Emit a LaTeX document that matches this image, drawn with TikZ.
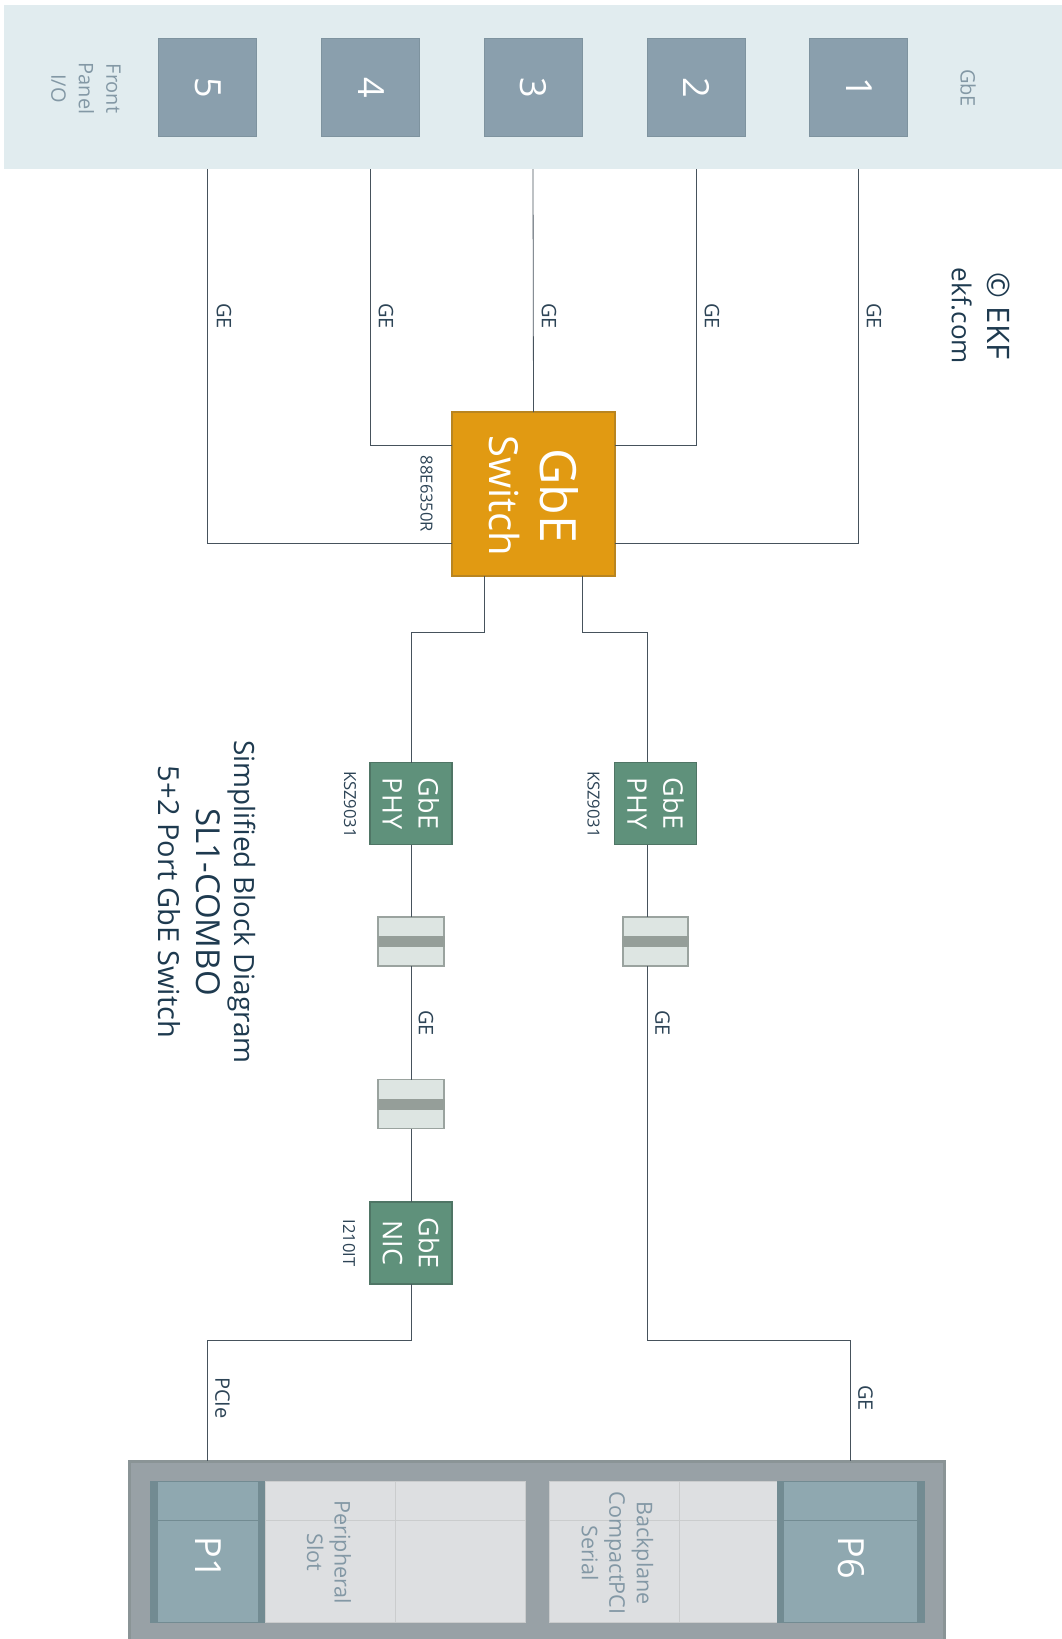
\documentclass[tikz,border=0pt]{standalone}
\usepackage{fontspec}
\setmainfont{Open Sans}
\usetikzlibrary{calc}

\definecolor{bandbg}{HTML}{E1ECEF}
\definecolor{portfill}{HTML}{8A9FAD}
\definecolor{portedge}{HTML}{7E939F}
\definecolor{swfill}{HTML}{E19A12}
\definecolor{swedge}{HTML}{B98520}
\definecolor{chipfill}{HTML}{5F917B}
\definecolor{chipedge}{HTML}{4F7565}
\definecolor{magfill}{HTML}{DDE5E2}
\definecolor{magedge}{HTML}{9AA39F}
\definecolor{magdark}{HTML}{959E99}
\definecolor{rackfill}{HTML}{98A1A6}
\definecolor{rackedge}{HTML}{8A9496}
\definecolor{pinfill}{HTML}{8FA8B0}
\definecolor{pinedge}{HTML}{728B92}
\definecolor{slotfill}{HTML}{DDDFE1}
\definecolor{slotline}{HTML}{CACCCD}
\definecolor{greytxt}{HTML}{8398A5}
\definecolor{darktxt}{HTML}{1E3A4F}
\definecolor{wire}{HTML}{46525C}

\begin{document}
\begin{tikzpicture}[
  x=1pt, y=-1pt,
  box/.style={rectangle, draw, inner sep=0pt, outer sep=0pt},
  band/.style={box, draw=none, fill=bandbg, minimum width=1058.5pt, minimum height=164pt},
  port/.style={box, fill=portfill, draw=portedge, line width=1pt, minimum width=98pt, minimum height=98pt},
  switch/.style={box, fill=swfill, draw=swedge, line width=1.2pt, minimum width=163pt, minimum height=164pt},
  chip/.style={box, fill=chipfill, draw=chipedge, line width=1.2pt, minimum width=82pt, minimum height=82pt},
  mag/.style={box, fill=magfill, draw=magedge, line width=1.6pt, minimum width=65.5pt, minimum height=49pt},
  magbar/.style={box, draw=none, fill=magdark, minimum width=67pt, minimum height=11pt},
  rack/.style={box, fill=rackfill, draw=rackedge, line width=3pt, minimum width=815pt, minimum height=190pt},
  pinblock/.style={box, fill=pinfill, draw=pinedge, line width=.8pt, minimum height=141pt},
  pinside/.style={box, draw=none, fill=pinedge, minimum height=141.5pt, minimum width=6.8pt},
  slot/.style={box, fill=slotfill, draw=slotline, line width=.8pt, minimum height=141pt},
  txt/.style={rotate=-90, align=center, inner sep=0pt},
  lbl/.style={txt, text=darktxt!85!gray, font=\fontsize{20}{26}\selectfont},
  partno/.style={txt, text=darktxt!85!gray, font=\fontsize{16.6}{22}\selectfont},
  graylbl/.style={txt, text=greytxt, font=\fontsize{20}{27.5}\selectfont},
  slotlbl/.style={txt, text=greytxt, font=\fontsize{21.6}{27.5}\selectfont},
  whitelbl/.style={txt, text=white},
  link/.style={draw=wire, line width=.8pt},
  seam/.style={draw=slotline, line width=.8pt}
]
\useasboundingbox (0,0) rectangle (1062,1639);

% front panel
\node[band] (panel) at (532.75,87) {};
\node[graylbl] (paneltxt) at (86,88.5) {Front\\Panel\\I/O};
\node[graylbl] (gbetxt) at (968,88) {GbE};
\foreach \n/\x in {5/207.5,4/370.5,3/533,2/696,1/858.5} {
  \node[port] (p\n) at (\x,87.5) {};
  \node[whitelbl, font=\fontsize{36}{40}\selectfont] (pt\n) at (\x+.5,87.5) {\n};
}

% switch
\node[switch] (sw) at (533.5,494) {};
\node[whitelbl, font=\fontsize{50}{51}\selectfont] (swtxt) at (533.5,496) {GbE\\{\fontsize{40}{46}\selectfont Switch}};
\node[partno] (swpart) at (426.5,494) {88E6350R};
\coordinate (swa) at (sw.west |- 0,445);
\coordinate (swb) at (sw.west |- 0,543);
\coordinate (swc) at (sw.east |- 0,445);
\coordinate (swd) at (sw.east |- 0,543);
\coordinate (swe) at (484.3,576);
\coordinate (swf) at (582,576);

% phy and nic
\node[chip] (phya) at (411,803.5) {};
\node[chip] (phyb) at (655.5,803.5) {};
\node[chip] (nic) at (411,1243) {};
\node[whitelbl, font=\fontsize{27}{36}\selectfont] (phyatxt) at (phya) {GbE\\PHY};
\node[whitelbl, font=\fontsize{27}{36}\selectfont] (phybtxt) at (phyb) {GbE\\PHY};
\node[whitelbl, font=\fontsize{27}{36}\selectfont] (nictxt) at (nic) {GbE\\NIC};
\node[partno] (phyapart) at (350,804.5) {KSZ9031};
\node[partno] (phybpart) at (593.5,804.5) {KSZ9031};
\node[partno] (nicpart) at (349,1243) {I210IT};

% magnetics
\node[mag] (maga) at (411,941.5) {};
\node[magbar] (magabar) at (maga) {};
\node[mag] (magb) at (655.5,941.5) {};
\node[magbar] (magbbar) at (magb) {};
\node[mag] (magc) at (411,1104) {};
\node[magbar] (magcbar) at (magc) {};

% backplane
\node[rack] (rack) at (537,1556) {};
\node[slot, minimum width=260pt] (slota) at (395,1552) {};
\node[slot, minimum width=228pt] (slotb) at (663,1552) {};
\node[pinside] (pleft) at (153.4,1552) {};
\node[pinside] (pright) at (261.5,1552) {};
\node[pinside] (qleft) at (780.2,1552) {};
\node[pinside] (qright) at (921.4,1552) {};
\node[pinblock, minimum width=101pt] (pone) at (207.5,1552) {};
\node[pinblock, minimum width=134.5pt] (psix) at (850.5,1552) {};
\draw[seam] (slota.west |- 0,1520.3) -- (slota.east |- 0,1520.3);
\draw[seam] (slotb.west |- 0,1520.3) -- (slotb.east |- 0,1520.3);
\draw[seam] (395,1481) -- (395,1622.5);
\draw[seam] (679.7,1481) -- (679.7,1622.5);
\draw[pinedge, line width=.8pt] (pone.west |- 0,1520.3) -- (pone.east |- 0,1520.3);
\draw[pinedge, line width=.8pt] (psix.west |- 0,1520.3) -- (psix.east |- 0,1520.3);
\node[whitelbl, font=\fontsize{36}{40}\selectfont] (ponetxt) at (208,1557.5) {P1};
\node[whitelbl, font=\fontsize{36}{40}\selectfont] (psixtxt) at (851,1557.5) {P6};
\node[slotlbl] (slotatxt) at (329,1552.5) {Peripheral\\Slot};
\node[slotlbl] (slotbtxt) at (617.5,1553) {Backplane\\CompactPCI\\Serial};

% links
\draw[link] (panel.south -| p5) |- (swb);
\draw[link] (panel.south -| p4) |- (swa);
\draw[link] (panel.south -| p3) -- (sw.north);
\draw[link] (panel.south -| p2) |- (swc);
\draw[link] (panel.south -| p1) |- (swd);
\draw[link] (swe) |- (maga.north |- 0,632) -- (phya.north);
\draw[link] (swf) |- (647,632) -- (647,762);
\draw[link] (phya.south) -- (maga.north);
\draw[link] (maga.south) -- (magc.north);
\draw[link] (magc.south) -- (nic.north);
\draw[link] (nic.south) |- (pone.north |- 0,1340) -- (pone.north |- rack.north);
\draw[link] (647,844.7) -- (647,916.7);
\draw[link] (647,966.3) -- (647,1340) -| (psix.north |- rack.north);

% link labels
\foreach \n/\x in {a/224,b/386,c/549,d/712,e/874}
  \node[lbl] (ge\n) at (\x,316) {GE};
\node[lbl] (gef) at (426,1023) {GE};
\node[lbl] (geg) at (662.5,1023) {GE};
\node[lbl] (pcie) at (222.5,1398) {PCIe};
\node[lbl] (geh) at (865.5,1398) {GE};

% title and copyright
\node[txt, text=darktxt, font=\fontsize{26}{36}\selectfont] (credit) at (981,316) {{\fontsize{31}{36}\selectfont © EKF}\\ekf.com};
\node[txt, text=darktxt, font=\fontsize{27.9}{38}\selectfont] (title) at (207.5,902) {Simplified Block Diagram\\{\fontsize{33}{38}\selectfont SL1-COMBO}\\{\fontsize{29}{38}\selectfont 5+2 Port GbE Switch}};
\end{tikzpicture}
\end{document}
